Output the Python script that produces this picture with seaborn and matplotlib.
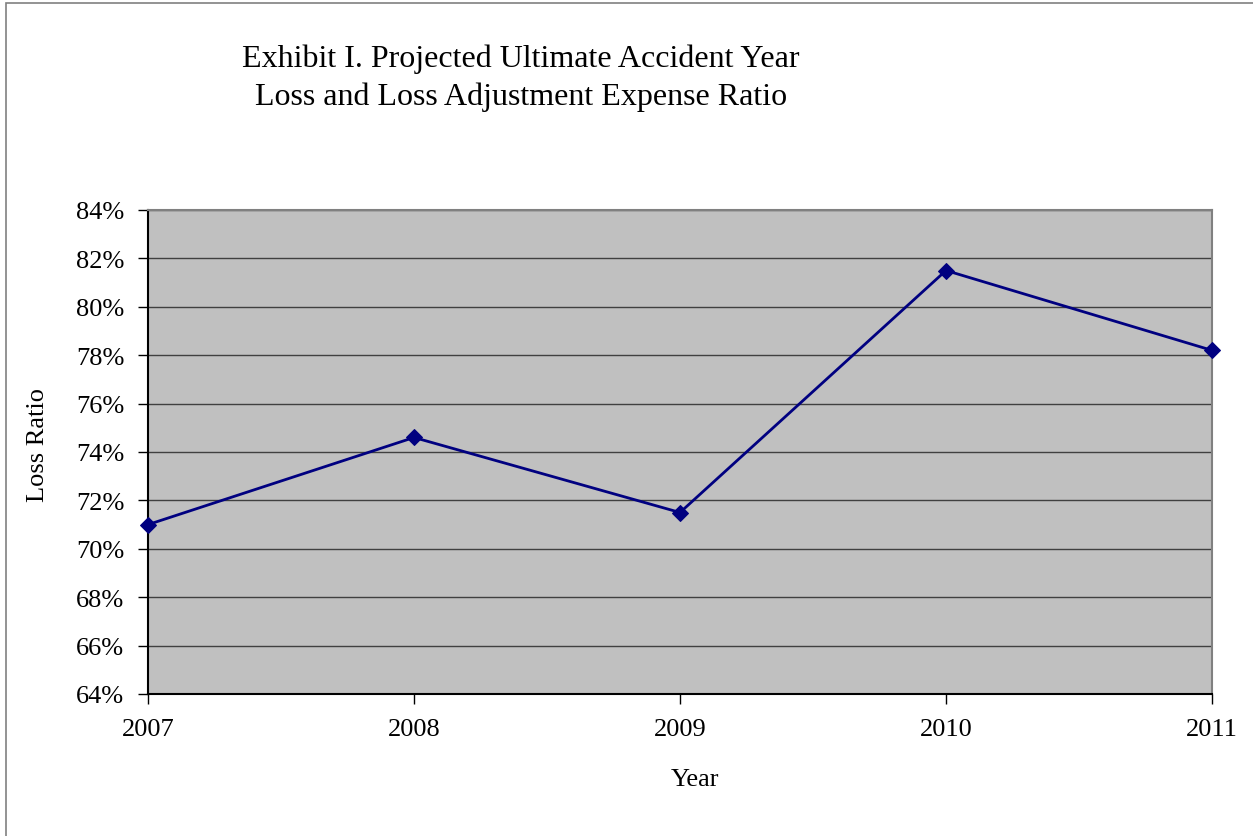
import matplotlib
matplotlib.use("Agg")
import matplotlib.pyplot as plt
import seaborn as sns
import pandas as pd
from matplotlib.ticker import FuncFormatter
from matplotlib.patches import Rectangle

years = [2007, 2008, 2009, 2010, 2011]
loss_ratio = [71.0, 74.6, 71.5, 81.5, 78.2]
y_ticks = [64, 66, 68, 70, 72, 74, 76, 78, 80, 82, 84]
title_lines = ["Exhibit I. Projected Ultimate Accident Year", "Loss and Loss Adjustment Expense Ratio"]

sns.set_theme(style="white")
plt.rcParams['font.family'] = ['Liberation Serif', 'DejaVu Serif']
plt.rcParams['text.color'] = 'black'
plt.rcParams['axes.labelcolor'] = 'black'

df = pd.DataFrame({"Year": years, "Loss Ratio": loss_ratio})

W, H = 1253, 837
fig = plt.figure(figsize=(W / 100, H / 100), dpi=100)
ax = fig.add_axes([148 / W, 1 - 695 / H, (1212 - 148) / W, (695 - 211) / H])
ax.set_facecolor("#c0c0c0")

sns.lineplot(data=df, x="Year", y="Loss Ratio", ax=ax, color="#000080",
             linewidth=2.0, marker="D", markersize=8.5, markeredgecolor="#000080",
             zorder=5, clip_on=False)

ax.set_xlim(years[0], years[-1])
ax.set_ylim(y_ticks[0], y_ticks[-1])
ax.set_xticks(years)
ax.set_xticklabels([str(y) for y in years])
ax.set_yticks(y_ticks)
ax.yaxis.set_major_formatter(FuncFormatter(lambda v, p: f"{int(round(v))}%"))
ax.grid(axis="y", color="#404040", linewidth=1.0)
ax.grid(axis="x", visible=False)
ax.set_axisbelow(True)

for s in ["top", "right"]:
    ax.spines[s].set_color("#808080")
    ax.spines[s].set_linewidth(1.5)
for s in ["left", "bottom"]:
    ax.spines[s].set_color("black")
    ax.spines[s].set_linewidth(1.5)

ax.tick_params(axis="both", which="major", direction="out", length=7, width=1,
               color="black", labelsize=19, labelcolor="black", left=True, bottom=True)
ax.tick_params(axis="y", pad=10)
ax.tick_params(axis="x", pad=10)

ax.set_xlabel("")
ax.set_ylabel("")
fig.text(695 / W, 1 - 780 / H, "Year", ha="center", va="center", fontsize=19, color="black")
fig.text(38 / W, 1 - 445 / H, "Loss Ratio", ha="center", va="center", fontsize=19,
         rotation=90, color="black")
fig.text(521 / W, 1 - 78 / H, "\n".join(title_lines), ha="center", va="center",
         fontsize=23, linespacing=1.4, color="black")

fig.patches.append(Rectangle((6 / W, -0.1), 1.2, 1 - 4 / H + 0.1, transform=fig.transFigure,
                             fill=False, edgecolor="#808080", linewidth=1.2))

fig.savefig("out.png", dpi=100)
